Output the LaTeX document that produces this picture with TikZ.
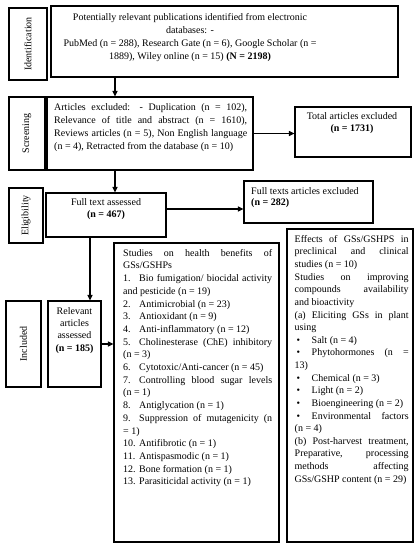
\documentclass[tikz,border=0pt]{standalone}
\usepackage{fontspec}
\setmainfont{Liberation Serif}
\usetikzlibrary{arrows.meta,fit}
\begin{document}
\begin{tikzpicture}[x=1pt,y=-1pt,
  box/.style={draw, line width=1.1pt, inner sep=0pt},
  txt/.style={inner sep=0pt, font=\fontsize{10}{12.7}\selectfont},
  jtxt/.style={txt, align=justify, anchor=north west},
  ctxt/.style={txt, align=center, anchor=north},
  vlab/.style={txt, rotate=90},
  arr/.style={line width=1.1pt, -{Triangle[length=5.5pt,width=5pt]}}]
\useasboundingbox (0,0) rectangle (420,550);
\newcommand{\num}[1]{\makebox[16pt][l]{#1}}
\newcommand{\bul}{\makebox[17pt][l]{\hspace{2pt}\textbullet}}

% stage labels
\node[box, fit={(9,8) (47,80)}] (idlab) {};
\node[vlab] (idlabt) at (idlab.center) {Identification};
\node[box, fit={(9,97) (45,170)}] (scrlab) {};
\node[vlab] (scrlabt) at (scrlab.center) {Screening};
\node[box, fit={(9,188) (43,243)}] (ellab) {};
\node[vlab] (ellabt) at (ellab.center) {Eligibility};
\node[box, fit={(6,301) (41,387)}] (inlab) {};
\node[vlab] (inlabt) at (inlab.center) {Included};

% boxes
\node[box, fit={(51,6) (398,77)}] (idbox) {};
\node[ctxt, font=\fontsize{10}{13}\selectfont] (idt) at (190,13) {Potentially relevant publications identified from electronic\\databases: -\\PubMed (n = 288), Research Gate (n = 6), Google Scholar (n =\\1889), Wiley online (n = 15) \textbf{(N = 2198)}};

\node[box, fit={(47,97) (253,170)}] (scrbox) {};
\node[jtxt, text width=193pt, font=\fontsize{10}{13}\selectfont] (scrt) at (54,103) {Articles excluded: - Duplication (n = 102),\linebreak Relevance of title and abstract (n = 1610),\linebreak Reviews articles (n = 5), Non English language\linebreak (n = 4), Retracted from the database (n = 10)};

\node[box, fit={(295,107) (411,157)}] (totbox) {};
\node[ctxt, font=\fontsize{10}{12}\selectfont] (tott) at (352,112) {Total articles excluded\\\textbf{(n = 1731)}};

\node[box, fit={(46,193) (166,237)}] (ftbox) {};
\node[ctxt, font=\fontsize{10}{12.7}\selectfont] (ftt) at (106,198) {Full text assessed\\\textbf{(n = 467)}};

\node[box, fit={(244,181) (373,223)}] (fexbox) {};
\node[txt, align=left, anchor=north west, font=\fontsize{10}{11.5}\selectfont] (fext) at (251,187) {Full texts articles excluded\\\textbf{(n = 282)}};

\node[box, fit={(48,301) (101,387)}] (relbox) {};
\node[ctxt, font=\fontsize{10}{12.3}\selectfont] (relt) at (74.5,307) {Relevant\\articles\\assessed\\\textbf{(n = 185)}};

\node[box, fit={(114,243) (279,542)}] (studbox) {};
\node[jtxt, text width=149pt, font=\fontsize{10}{12.7}\selectfont] (studt) at (123,249) {Studies on health benefits of\linebreak
GSs/GSHPs\newline
\num{1.}Bio fumigation/ biocidal activity\linebreak
and pesticide (n = 19)\newline
\num{2.}Antimicrobial (n = 23)\newline
\num{3.}Antioxidant (n = 9)\newline
\num{4.}Anti-inflammatory (n = 12)\newline
\num{5.}Cholinesterase (ChE) inhibitory\linebreak
(n = 3)\newline
\num{6.}Cytotoxic/Anti-cancer (n = 45)\newline
\num{7.}Controlling blood sugar levels\linebreak
(n = 1)\newline
\num{8.}Antiglycation (n = 1)\newline
\num{9.}Suppression of mutagenicity (n\linebreak
= 1)\newline
\num{10.}Antifibrotic (n = 1)\newline
\num{11.}Antispasmodic (n = 1)\newline
\num{12.}Bone formation (n = 1)\newline
\num{13.}Parasiticidal activity (n = 1)};

\node[box, fit={(287,229) (413,542)}] (effbox) {};
\node[jtxt, text width=114pt, font=\fontsize{10}{12.63}\selectfont] (efft) at (294.5,235) {Effects of GSs/GSHPS in\linebreak
preclinical and clinical\linebreak
studies (n = 10)\newline
Studies on improving\linebreak
compounds availability\linebreak
and bioactivity\newline
(a) Eliciting GSs in plant\linebreak
using\newline
\bul Salt (n = 4)\newline
\bul Phytohormones (n =\linebreak
13)\newline
\bul Chemical (n = 3)\newline
\bul Light (n = 2)\newline
\bul Bioengineering (n = 2)\newline
\bul Environmental factors\linebreak
(n = 4)\newline
(b) Post-harvest treatment,\linebreak
Preparative, processing\linebreak
methods affecting\linebreak
\mbox{GSs/GSHP content (n = 29)}};

% connectors
\coordinate (xa) at (115,0);
\coordinate (xb) at (90,0);
\coordinate (yf) at (0,209);
\draw[arr] (xa |- idbox.south) -- (xa |- scrbox.north);
\draw[arr] (scrbox.east) -- (scrbox.east -| totbox.west);
\draw[arr] (xa |- scrbox.south) -- (xa |- ftbox.north);
\draw[arr] (ftbox.east |- yf) -- (fexbox.west |- yf);
\draw[arr] (xb |- ftbox.south) -- (xb |- relbox.north);
\draw[arr] (relbox.east) -- (relbox.east -| studbox.west);
\end{tikzpicture}
\end{document}
